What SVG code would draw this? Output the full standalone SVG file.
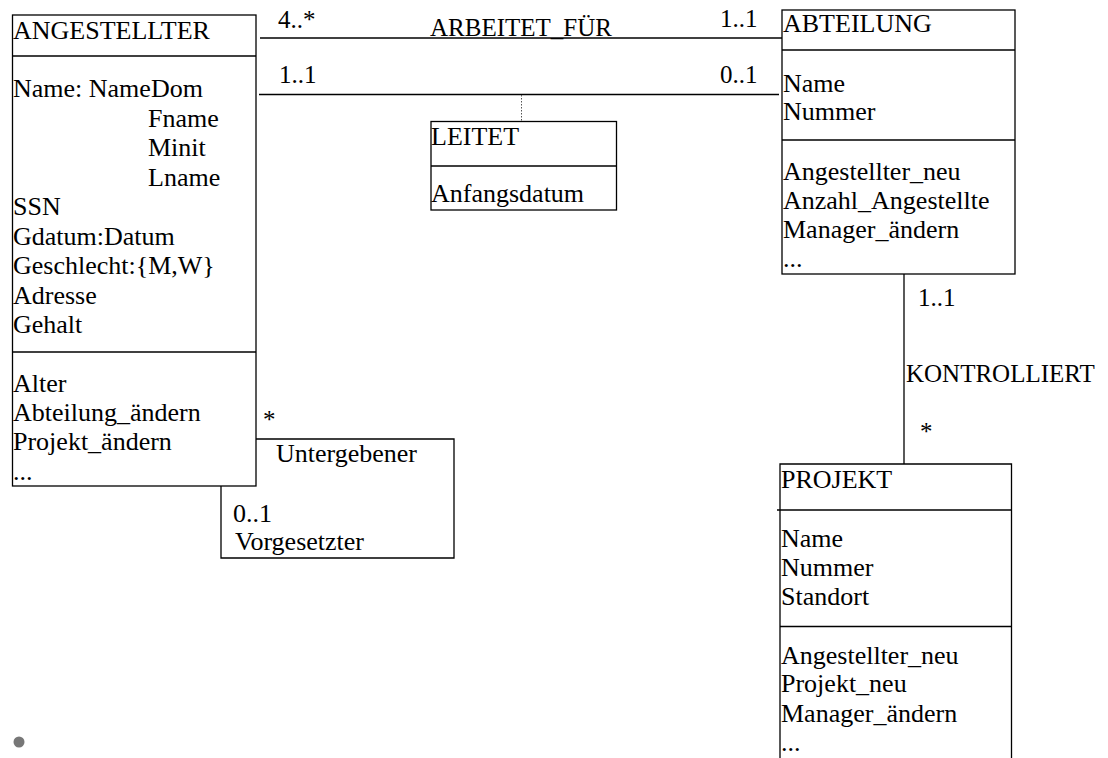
<svg xmlns="http://www.w3.org/2000/svg" width="1108" height="758" viewBox="0 0 1108 758">
<style>
text{font-family:"Liberation Serif","Times New Roman",serif;font-size:26px;fill:#000}
.lbl{font-size:25px}
.box{fill:#fff;stroke:#000;stroke-width:1.3}
.ln{stroke:#000;stroke-width:1.3;fill:none}
.dot{stroke:#555;stroke-width:1;stroke-dasharray:1.5 1.5;fill:none}
</style>
<rect width="1108" height="758" fill="#fff"/>
<g id="connectors">
<line class="ln" x1="260" y1="38" x2="782" y2="38"/>
<line class="ln" x1="259" y1="94.5" x2="779" y2="94.5"/>
<line class="dot" x1="521.5" y1="95" x2="521.5" y2="122"/>
<line class="ln" x1="904" y1="274" x2="904" y2="464"/>
<polyline class="ln" points="256,439 454,439 454,558 221,558 221,486"/>
<text class="lbl" x="278" y="28">4..*</text>
<text class="lbl" x="430" y="36">ARBEITET_FÜR</text>
<text class="lbl" x="720" y="27">1..1</text>
<text class="lbl" x="279" y="83">1..1</text>
<text class="lbl" x="720" y="83">0..1</text>
<text class="lbl" x="918" y="306">1..1</text>
<text class="lbl" x="906" y="382">KONTROLLIERT</text>
<text class="lbl" x="920" y="440">*</text>
</g>
<g id="untergebener">
<text class="lbl" x="263" y="428">*</text>
<text x="276" y="462">Untergebener</text>
<text x="233" y="522">0..1</text>
<text x="235" y="550">Vorgesetzter</text>
</g>
<g id="angestellter">
<rect class="box" x="12.5" y="15" width="243.5" height="471"/>
<line class="ln" x1="12.5" y1="56" x2="256" y2="56"/>
<line class="ln" x1="12.5" y1="352" x2="256" y2="352"/>
<text x="13" y="39">ANGESTELLTER</text>
<text x="13" y="97">Name: NameDom</text>
<text x="148" y="127">Fname</text>
<text x="148" y="156">Minit</text>
<text x="148" y="186">Lname</text>
<text x="13" y="215">SSN</text>
<text x="13" y="245">Gdatum:Datum</text>
<text x="13" y="274">Geschlecht:{M,W}</text>
<text x="13" y="304">Adresse</text>
<text x="13" y="333">Gehalt</text>
<text x="13" y="392">Alter</text>
<text x="13" y="421">Abteilung_ändern</text>
<text x="13" y="450">Projekt_ändern</text>
<text x="13" y="480">...</text>
</g>
<g id="leitet">
<rect class="box" x="431" y="121.5" width="185.5" height="88.5"/>
<line class="ln" x1="431" y1="166" x2="616.5" y2="166"/>
<text x="431" y="145">LEITET</text>
<text x="431" y="202">Anfangsdatum</text>
</g>
<g id="abteilung">
<rect class="box" x="782" y="10" width="233" height="264"/>
<line class="ln" x1="782" y1="50" x2="1015" y2="50"/>
<line class="ln" x1="782" y1="140" x2="1015" y2="140"/>
<text x="783" y="32">ABTEILUNG</text>
<text x="783" y="92">Name</text>
<text x="783" y="120">Nummer</text>
<text x="783" y="180">Angestellter_neu</text>
<text x="783" y="209">Anzahl_Angestellte</text>
<text x="783" y="238">Manager_ändern</text>
<text x="783" y="267">...</text>
</g>
<g id="projekt">
<path class="ln" d="M780,760 V464 H1011.5 V760" fill="#fff"/>
<line class="ln" x1="777" y1="510" x2="1011.5" y2="510"/>
<line class="ln" x1="780" y1="626.5" x2="1011.5" y2="626.5"/>
<text x="781" y="488">PROJEKT</text>
<text x="781" y="547">Name</text>
<text x="781" y="576">Nummer</text>
<text x="781" y="605">Standort</text>
<text x="781" y="664">Angestellter_neu</text>
<text x="781" y="692">Projekt_neu</text>
<text x="781" y="722">Manager_ändern</text>
<text x="781" y="751">...</text>
</g>
<circle cx="19" cy="742" r="5.5" fill="#777"/>
</svg>
